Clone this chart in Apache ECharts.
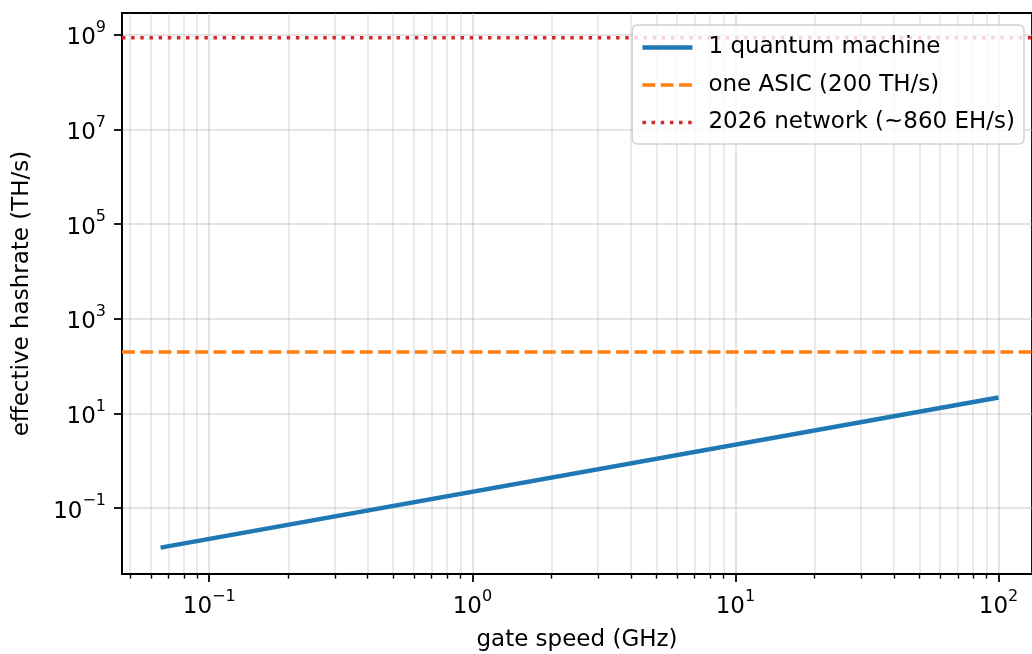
<!DOCTYPE html>
<html>
<head>
<meta charset="utf-8">
<title>quantum vs network hashrate</title>
<script src="https://cdn.jsdelivr.net/npm/echarts@6/dist/echarts.min.js"></script>
<style>
  html, body { margin: 0; padding: 0; background: #fff; }
  #chart { width: 1032px; height: 654px; }
</style>
</head>
<body>
<div id="chart"></div>
<script>
// ---- data ----
const gateSpeed = [0.0653, 100]            // GHz, ends of the blue line
const quantumHashrate = [0.0147, 21.8]     // TH/s
const asicLevel = 200                      // TH/s
const networkLevel = 8.6e8                 // TH/s (~860 EH/s)

const xRange = [0.0466, 134]
const yRange = [0.00408, 2.88e9]
const xMajorTicks = [0.1, 1, 10, 100]
const yMajorTicks = [0.1, 10, 1e3, 1e5, 1e7, 1e9]

const seriesNames = ['1 quantum machine', 'one ASIC (200 TH/s)', '2026 network (~860 EH/s)']

// minor ticks at 2..9 of every decade inside the x range
const xMinorTicks = []
for (let p = -2; p <= 2; p++) {
  for (let m = 2; m <= 9; m++) {
    const v = m * Math.pow(10, p)
    if (v > xRange[0] && v < xRange[1]) xMinorTicks.push(v)
  }
}

const FONT = 'DejaVu Sans'

// 10^n as rich text
function powLabel(v) {
  const e = Math.round(Math.log10(v))
  return '{b|10}{s|' + (e < 0 ? '\u2212' + (-e) : e) + '}'
}
const powRich = {
  b: { fontFamily: FONT, fontSize: 23, color: '#000', lineHeight: 30, verticalAlign: 'bottom' },
  s: { fontFamily: FONT, fontSize: 16, color: '#000', lineHeight: 16, verticalAlign: 'top' }
}

const chart = echarts.init(document.getElementById('chart'))
chart.setOption({
  animation: false,
  backgroundColor: '#fff',
  textStyle: { fontFamily: FONT },
  grid: {
    left: 122,
    top: 13,
    right: 0,
    bottom: 80,
    containLabel: false,
    outerBoundsMode: 'none',
    show: true,
    borderColor: '#000',
    borderWidth: 1.8
  },
  legend: {
    orient: 'vertical',
    right: 8,
    top: 25,
    data: seriesNames,
    itemWidth: 50,
    itemHeight: 14,
    itemGap: 14.5,
    padding: [11, 9, 10, 8],
    backgroundColor: 'rgba(255,255,255,0.8)',
    borderColor: 'rgba(204,204,204,0.9)',
    borderWidth: 1.5,
    borderRadius: 5,
    // line only, no marker in the middle
    itemStyle: { opacity: 0 },
    lineStyle: { width: 'inherit', type: 'inherit', cap: 'butt' },
    textStyle: { fontFamily: FONT, fontSize: 23, color: '#000', lineHeight: 23, padding: [0, 0, 0, 11] }
  },
  xAxis: [
    {
      type: 'log',
      logBase: 10,
      min: xRange[0],
      max: xRange[1],
      name: 'gate speed (GHz)',
      nameLocation: 'middle',
      nameGap: 55,
      nameTextStyle: { fontFamily: FONT, fontSize: 23, color: '#000' },
      axisLine: { show: true, lineStyle: { color: '#000', width: 1.8 } },
      axisTick: { show: true, inside: false, length: 8, customValues: xMajorTicks, lineStyle: { color: '#000', width: 1.8 } },
      axisLabel: { customValues: xMajorTicks, margin: 15, formatter: powLabel, rich: powRich },
      splitLine: { show: true, lineStyle: { color: 'rgba(176,176,176,0.45)', width: 1.5 } },
      minorTick: { show: false }
    },
    {
      // minor ticks + minor grid on the same scale
      type: 'log',
      logBase: 10,
      position: 'bottom',
      offset: 0,
      min: xRange[0],
      max: xRange[1],
      axisLine: { show: false },
      axisTick: { show: true, inside: false, length: 4.6, customValues: xMinorTicks, lineStyle: { color: '#000', width: 1.4 } },
      axisLabel: { show: false },
      splitLine: { show: true, lineStyle: { color: 'rgba(176,176,176,0.33)', width: 1.5 } }
    }
  ],
  yAxis: {
    type: 'log',
    logBase: 10,
    min: yRange[0],
    max: yRange[1],
    name: 'effective hashrate (TH/s)',
    nameLocation: 'middle',
    nameGap: 88,
    nameTextStyle: { fontFamily: FONT, fontSize: 23, color: '#000' },
    axisLine: { show: true, lineStyle: { color: '#000', width: 1.8 } },
    axisTick: { show: true, inside: false, length: 8, customValues: yMajorTicks, lineStyle: { color: '#000', width: 1.8 } },
    axisLabel: { customValues: yMajorTicks, margin: 16, formatter: powLabel, rich: powRich },
    splitLine: { show: true, lineStyle: { color: 'rgba(176,176,176,0.45)', width: 1.5 } }
  },
  series: [
    {
      name: seriesNames[0],
      type: 'line',
      xAxisIndex: 0,
      symbol: 'none',
      color: '#1f77b4',
      lineStyle: { width: 4.5, cap: 'butt' },
      data: gateSpeed.map((x, i) => [x, quantumHashrate[i]])
    },
    {
      name: seriesNames[1],
      type: 'line',
      xAxisIndex: 0,
      symbol: 'none',
      color: '#ff7f0e',
      lineStyle: { width: 3.5, type: [12.8, 5.5], cap: 'butt' },
      data: [[xRange[0], asicLevel], [xRange[1], asicLevel]]
    },
    {
      name: seriesNames[2],
      type: 'line',
      xAxisIndex: 0,
      symbol: 'none',
      color: '#d62728',
      lineStyle: { width: 3.5, type: [3.45, 5.7], cap: 'butt' },
      data: [[xRange[0], networkLevel], [xRange[1], networkLevel]]
    }
  ]
})
</script>
</body>
</html>
